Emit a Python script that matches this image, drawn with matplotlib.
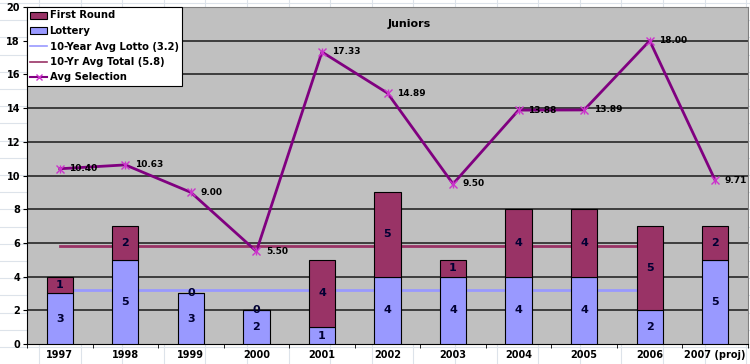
import matplotlib
matplotlib.use("Agg")
import matplotlib.pyplot as plt
from matplotlib.lines import Line2D
from matplotlib.patches import Patch
import numpy as np

years = ["1997", "1998", "1999", "2000", "2001", "2002", "2003", "2004", "2005", "2006", "2007 (proj)"]
lottery = [3, 5, 3, 2, 1, 4, 4, 4, 4, 2, 5]
first_round = [1, 2, 0, 0, 4, 5, 1, 4, 4, 5, 2]
avg_selection = [10.40, 10.63, 9.00, 5.50, 17.33, 14.89, 9.50, 13.88, 13.89, 18.00, 9.71]
avg_lotto = 3.2
avg_total = 5.8
avg_span = (0, 9)  # first to last category index covered by the average lines

plt.rcParams['font.family'] = ['DejaVu Sans']
fig = plt.figure(figsize=(7.5, 3.64), dpi=100)
fig.patch.set_facecolor('white')

# faint spreadsheet cell grid behind the chart
for xp in np.arange(39, 750, 41.6):
    fig.add_artist(Line2D([xp / 750, xp / 750], [0, 1], color='#DDE3EA', lw=0.8, zorder=0))
for yp in np.arange(3, 364, 17.2):
    fig.add_artist(Line2D([0, 1], [1 - yp / 364, 1 - yp / 364], color='#DDE3EA', lw=0.8, zorder=0))

ax = fig.add_axes([27 / 750, 1 - 344 / 364, (748 - 27) / 750, (344 - 7) / 364])
ax.set_facecolor('#C0C0C0')
x = np.arange(len(years))

ax.set_ylim(0, 20)
ax.set_xlim(-0.5, len(years) - 0.5)
ax.set_yticks(range(0, 21, 2))
for yv in range(2, 21, 2):
    ax.axhline(yv, color='#1A1A1A', lw=1.1, zorder=1)

# average lines (behind bars)
ax.plot(avg_span, [avg_lotto, avg_lotto], color='#9999FF', lw=2, zorder=2)
ax.plot(avg_span, [avg_total, avg_total], color='#993366', lw=2, zorder=2)

w = 0.4
ax.bar(x, lottery, w, color='#9999FF', edgecolor='#000000', lw=0.8, zorder=3)
ax.bar(x, first_round, w, bottom=lottery, color='#993366', edgecolor='#000000', lw=0.8, zorder=3)

for i in range(len(years)):
    ax.text(x[i], lottery[i] / 2, str(lottery[i]), ha='center', va='center',
            fontsize=8, fontweight='bold', color='#000033', zorder=6)
    ax.text(x[i], lottery[i] + first_round[i] / 2, str(first_round[i]), ha='center', va='center',
            fontsize=8, fontweight='bold', color='#000033', zorder=6)

ax.plot(x, avg_selection, color='#800080', lw=2, zorder=5)
ax.plot(x, avg_selection, ls='none', marker='x', ms=6, mew=1, color='#CC33CC', zorder=5)
ax.plot(x, avg_selection, ls='none', marker='|', ms=6, mew=1, color='#CC33CC', zorder=5)
for i, v in enumerate(avg_selection):
    ax.annotate(f"{v:.2f}", (x[i], v), xytext=(7, 0), textcoords='offset points',
                ha='left', va='center', fontsize=6.5, fontweight='bold', zorder=6)

ax.text(0.53, 0.965, "Juniors", transform=ax.transAxes, ha='center', va='top',
        fontsize=8, fontweight='bold')

ax.set_xticks(x)
ax.set_xticklabels(years, fontsize=7, fontweight='bold')
ax.tick_params(axis='x', length=0, pad=4)
ax.set_xticks(np.arange(-0.5, len(years), 1), minor=True)
ax.tick_params(axis='x', which='minor', length=3, direction='out', color='black')
ax.tick_params(axis='y', labelsize=7, length=3, direction='out', pad=2)
for t in ax.get_yticklabels():
    t.set_fontweight('bold')
for s in ['top', 'right']:
    ax.spines[s].set_color('#808080')
ax.spines['left'].set_color('black')
ax.spines['bottom'].set_color('black')

handles = [
    Patch(facecolor='#993366', edgecolor='black', lw=0.8, label='First Round'),
    Patch(facecolor='#9999FF', edgecolor='black', lw=0.8, label='Lottery'),
    Line2D([], [], color='#9999FF', lw=1.2, label='10-Year Avg Lotto (3.2)'),
    Line2D([], [], color='#993366', lw=1.2, label='10-Yr Avg Total (5.8)'),
    Line2D([], [], color='#800080', lw=1.5, marker='x', ms=5, mec='#CC33CC', label='Avg Selection'),
]
leg = ax.legend(handles=handles, loc='upper left', bbox_to_anchor=(0.0, 1.0), fancybox=False,
                framealpha=1, edgecolor='black', facecolor='white', borderaxespad=0,
                prop={'size': 7.2, 'weight': 'bold'}, handlelength=1.6, handletextpad=0.3,
                labelspacing=0.55, borderpad=0.35)
leg.get_frame().set_linewidth(0.8)
leg.set_zorder(10)

fig.savefig("out.png", dpi=100)
